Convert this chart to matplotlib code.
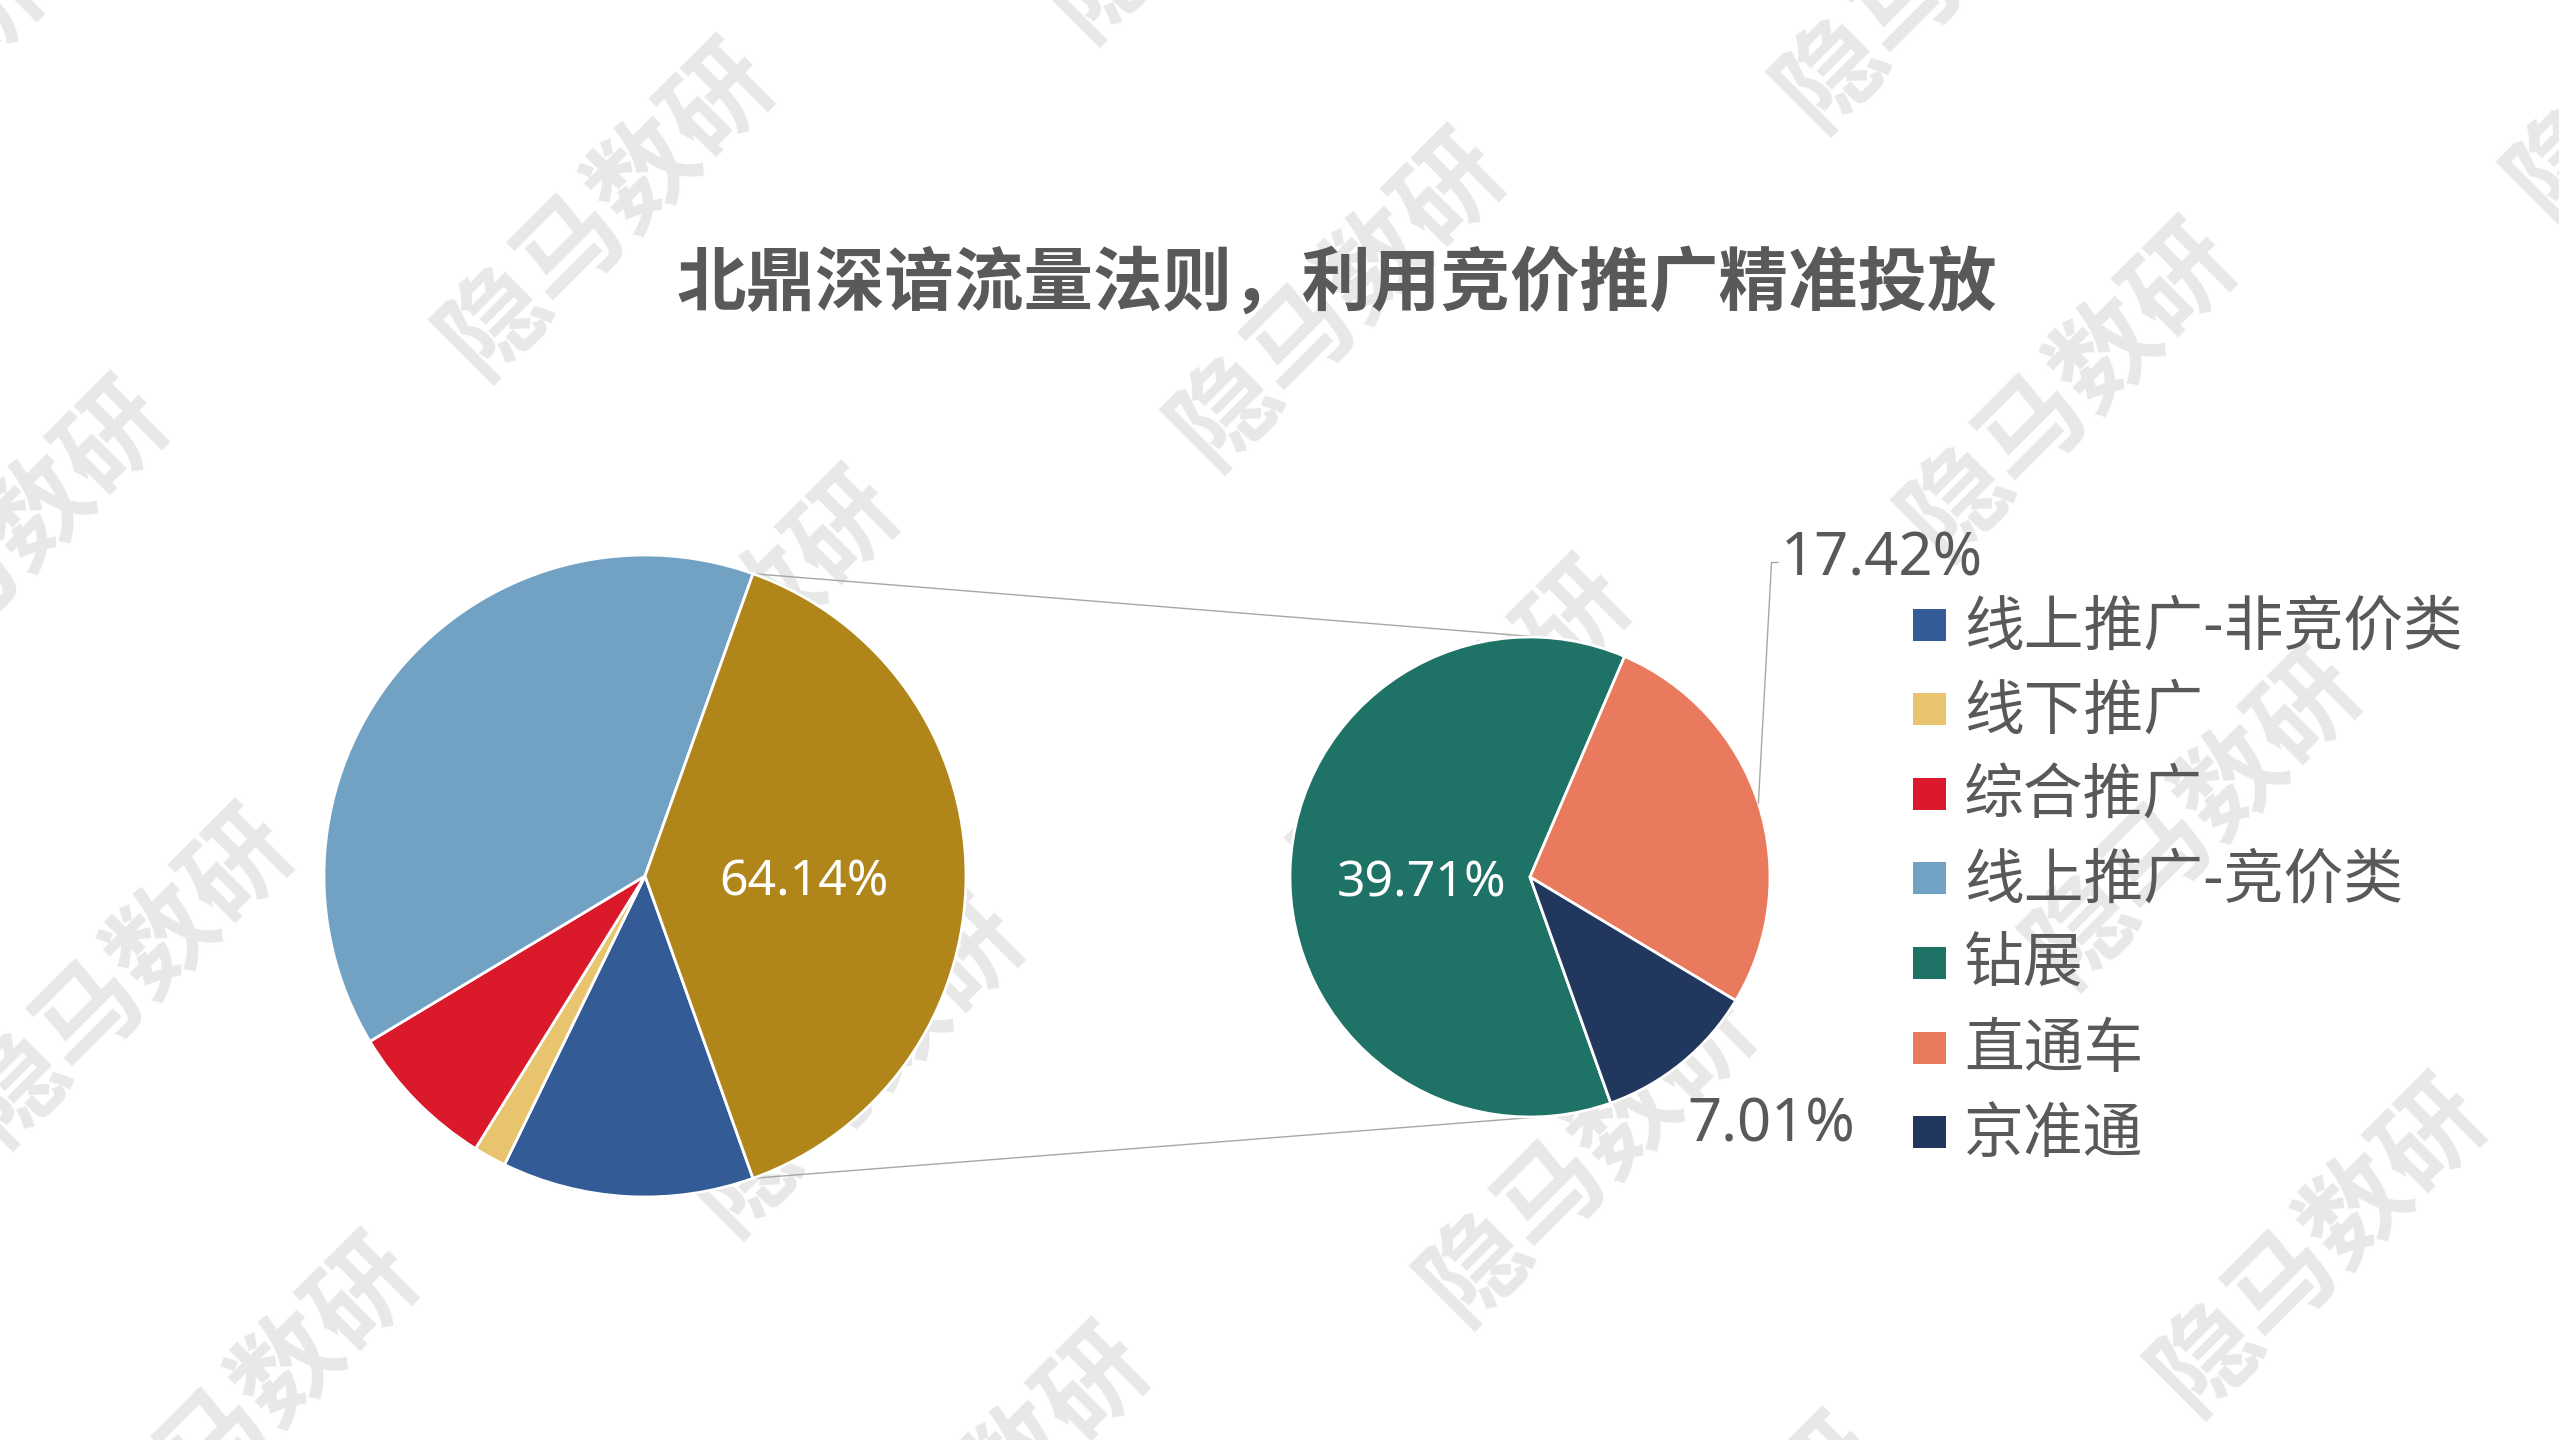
import matplotlib
matplotlib.use("Agg")
import matplotlib.pyplot as plt
from matplotlib.patches import Rectangle
import numpy as np

# ---- data -------------------------------------------------------------
title = "北鼎深谙流量法则，利用竞价推广精准投放"
main_labels = ["线上推广-非竞价类", "线下推广", "综合推广", "线上推广-竞价类"]
main_values = [20.80, 2.70, 12.36, 64.14]
main_colors = ["#335C96", "#E8C46F", "#DA1A2B", "#71A2C4"]
sub_labels = ["钻展", "直通车", "京准通"]
sub_values = [39.71, 17.42, 7.01]
sub_colors = ["#1F7366", "#E97A5E", "#21375D"]
other_color = "#B0861B"
watermark = "隐马数研"

# ---- canvas (1 data unit = 1 pixel) -----------------------------------
W, H = 2559, 1440
fig = plt.figure(figsize=(W / 100, H / 100), dpi=100)
ax = fig.add_axes([0, 0, 1, 1])


def Y(y):
    return H - y


CJK = ["Noto Sans CJK SC", "DejaVu Sans"]
NUM = ["Noto Sans", "DejaVu Sans"]
TXT = "#595959"

# ---- background watermark grid ----------------------------------------
wm_origin = np.array([607.0, 209.0])
wm_u = np.array([731.0, 90.0])
wm_v = np.array([125.0, 428.0])
for j in range(-1, 4):
    for i in range(-1, 4):
        px, py = wm_origin + i * wm_u + j * wm_v
        if -300 < px < W + 300 and -300 < py < H + 300:
            ax.text(px, Y(py), watermark, rotation=45, rotation_mode="anchor",
                    ha="center", va="center", fontsize=76, fontweight="bold",
                    family=CJK, color="#e8e8e8", zorder=0.1)

# ---- main pie (with aggregated "other" slice) -------------------------
other = sum(sub_values)
vals = main_values + [other]
start = -other / sum(vals) * 360 / 2
c1 = (645, Y(876))
r1 = 321
w1, _ = ax.pie(vals, colors=main_colors + [other_color], startangle=start,
               counterclock=False, center=c1, radius=r1, frame=True,
               wedgeprops=dict(edgecolor="white", linewidth=2))

# ---- secondary pie ----------------------------------------------------
c2 = (1530, Y(877))
r2 = 240
w2, _ = ax.pie(sub_values, colors=sub_colors, startangle=start,
               counterclock=False, center=c2, radius=r2, frame=True,
               wedgeprops=dict(edgecolor="white", linewidth=2))
for w in w1 + w2:
    w.set_zorder(2)

# ---- connector lines between the pies ---------------------------------
half = np.deg2rad(-start)
for sgn in (1, -1):
    p0 = (c1[0] + r1 * np.cos(half), c1[1] + sgn * r1 * np.sin(half))
    a = np.deg2rad(sgn * 84)
    p1 = (c2[0] + r2 * np.cos(a), c2[1] + r2 * np.sin(a))
    ax.plot([p0[0], p1[0]], [p0[1], p1[1]], color="#a6a6a6", lw=1.0, zorder=1)


# ---- data labels ------------------------------------------------------
def mid_point(w, c, r, frac):
    t = np.deg2rad((w.theta1 + w.theta2) / 2)
    return c[0] + frac * r * np.cos(t), c[1] + frac * r * np.sin(t)


x, y = mid_point(w1[-1], c1, r1, 0.495)
ax.text(x, y, f"{other:.2f}%", color="white", fontsize=36, family=NUM,
        ha="center", va="center_baseline", zorder=5)

x, y = mid_point(w2[0], c2, r2, 0.45)
ax.text(x, y - 4, f"{sub_values[0]:.2f}%", color="white", fontsize=36,
        family=NUM, ha="center", va="center_baseline", zorder=5)

# 17.42% with leader line
ex, ey = mid_point(w2[1], c2, r2, 1.0)
ax.plot([ex, 1771.5, 1778], [ey, Y(562.5), Y(562.5)], color="#a6a6a6",
        lw=1.0, zorder=3)
ax.text(1781, Y(552), f"{sub_values[1]:.2f}%", color=TXT, fontsize=43,
        family=NUM, ha="left", va="center_baseline", zorder=5)

ax.text(1771, Y(1118), f"{sub_values[2]:.2f}%", color=TXT, fontsize=43,
        family=NUM, ha="center", va="center_baseline", zorder=5)

# ---- legend -----------------------------------------------------------
leg_labels = main_labels + sub_labels
leg_colors = main_colors + sub_colors
for k, (lab, col) in enumerate(zip(leg_labels, leg_colors)):
    yc = 624.5 + k * 84.6
    ax.add_patch(Rectangle((1913, Y(yc) - 16), 33, 32, facecolor=col,
                           edgecolor="none", zorder=5))
    ax.text(1964, Y(yc + 3), lab, color=TXT, fontsize=43, family=CJK,
            ha="left", va="center", zorder=5)

# ---- title ------------------------------------------------------------
ax.text(1337, Y(284), title, color=TXT, fontsize=50, fontweight="heavy",
        family=CJK, ha="center", va="center", zorder=5)

ax.set_xlim(0, W)
ax.set_ylim(0, H)
ax.set_aspect("equal")
ax.axis("off")

fig.savefig("out.png", dpi=100, facecolor="white")
